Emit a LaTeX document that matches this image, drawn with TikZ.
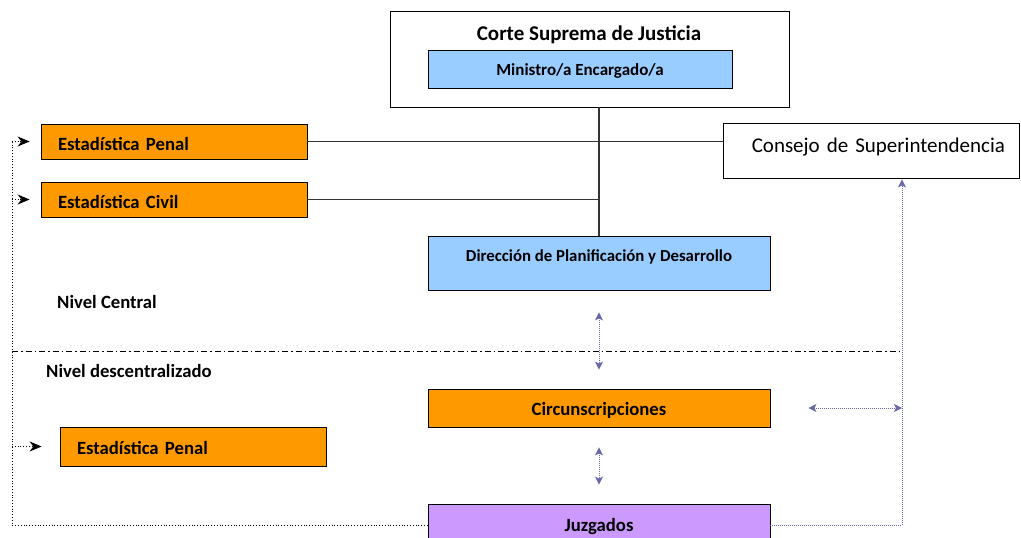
\documentclass[tikz,border=0pt]{standalone}
\usepackage{fontspec}
\setmainfont{Carlito}
\usetikzlibrary{arrows.meta}
\definecolor{orangebox}{RGB}{255,153,0}
\definecolor{bluebox}{RGB}{153,204,255}
\definecolor{purplebox}{RGB}{204,153,255}
\definecolor{linkcol}{RGB}{104,104,168}
\tikzset{
  x=1pt, y=-1pt,
  box/.style={draw=black, line width=0.9pt, rectangle, inner sep=0pt},
  orbox/.style={box, fill=orangebox},
  blbox/.style={box, fill=bluebox},
  pubox/.style={box, fill=purplebox},
  fmain/.style={font=\fontsize{18.7}{22}\selectfont\bfseries},
  leftbox/.style={orbox, fmain, minimum width=266pt, text width=232pt, inner xsep=17pt, align=left},
  solidlink/.style={draw=black!80, line width=1.1pt},
  blacklink/.style={draw=black, line width=0.8pt, dotted},
  blackarrow/.style={blacklink, -{Stealth[length=12pt,width=10pt]}},
  purplelink/.style={draw=linkcol, line width=1pt, densely dotted},
  purplearrow/.style={purplelink, {Stealth[length=8pt,width=8pt,inset=2pt]}-{Stealth[length=8pt,width=8pt,inset=2pt]}},
  purpleup/.style={purplelink, -{Stealth[length=8pt,width=8pt,inset=2pt]}},
  divider/.style={draw=black, line width=1pt, dash pattern=on 6pt off 3pt on 1.5pt off 3pt},
  plain/.style={fmain, anchor=base west, inner sep=0pt}
}
\begin{document}
\begin{tikzpicture}
\useasboundingbox (0,0) rectangle (1021,538);
% top
\node[box, fill=white, minimum width=399pt, minimum height=96pt] (corte) at (589.5,59) {};
\node[font=\fontsize{21}{24}\selectfont\bfseries, inner sep=0pt, anchor=base] (cortetitle) at (589,40) {Corte Suprema de Justicia};
\node[blbox, minimum width=304pt, minimum height=38pt, font=\fontsize{17}{20}\selectfont\bfseries, text height=14pt, text depth=0.6pt] (min) at (580,69) {Ministro/a Encargado/a};
\node[box, fill=white, minimum width=296pt, minimum height=55pt, font=\fontsize{21}{24}\selectfont, text height=14pt, text depth=10.4pt, text width=268pt, align=right] (cons) at (871,150.5) {Consejo de Superintendencia};
\node[leftbox, minimum height=35pt, text height=19pt, text depth=0.6pt] (ep) at (174,141.5) {Estadística Penal};
\node[leftbox, minimum height=35pt, text height=19pt, text depth=0.6pt] (ec) at (174,199.5) {Estadística Civil};
\node[blbox, minimum width=342pt, minimum height=54pt, font=\fontsize{16.8}{20}\selectfont\bfseries, text height=12pt, text depth=14.6pt] (dir) at (599,263) {Dirección de Planificación y Desarrollo};
\node[plain] (nc) at (57,308.3) {Nivel Central};
\node[plain] (nd) at (46,377.7) {Nivel descentralizado};
\node[orbox, fmain, minimum width=342pt, minimum height=38pt, text height=16pt, text depth=0.6pt] (circ) at (599,408) {Circunscripciones};
\node[leftbox, minimum height=39pt, text height=16pt, text depth=1pt] (ep2) at (193,446.5) {Estadística Penal};
\node[pubox, fmain, minimum width=342pt, minimum height=42pt, text height=13pt, text depth=1pt] (juz) at (599,525) {Juzgados};
% coordinates
\coordinate (L) at (12,351);
\coordinate (R) at (902,351);
% solid connectors
\draw[solidlink] (dir.north |- corte.south) -- (dir.north);
\draw[solidlink] (ep.east) -- (ep.east -| cons.west);
\draw[solidlink] (ec.east) -- (ec.east -| dir.north);
% divider
\draw[divider] (L) -- (R);
% black dotted feedback
\draw[blacklink] (juz.west) -- (L |- juz.west) -- (L |- ep.west);
\draw[blackarrow, shorten >=11pt] (L |- ep.west) -- (ep.west);
\draw[blackarrow, shorten >=11pt] (L |- ec.west) -- (ec.west);
\draw[blackarrow, shorten >=18pt] (L |- ep2.west) -- (ep2.west);
% purple links
\draw[purpleup] (juz.east) -- (R |- juz.east) -- ([yshift=-1pt]R |- cons.south);
\draw[purplearrow, shorten <=38pt] (circ.east) -- (R |- circ.east);
\draw[purplearrow, shorten <=22pt, shorten >=19pt] (dir.south) -- (circ.north);
\draw[purplearrow, shorten <=20pt, shorten >=19pt] (circ.south) -- (juz.north);
\end{tikzpicture}
\end{document}
